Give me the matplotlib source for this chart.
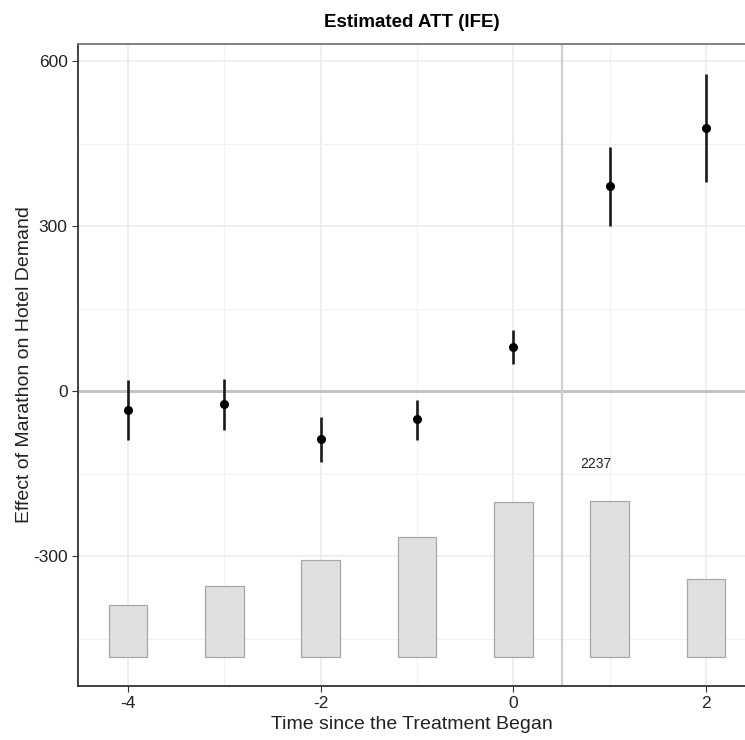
import numpy as np
import matplotlib.pyplot as plt

plt.rcParams['font.family'] = ['Liberation Sans', 'DejaVu Sans']
plt.rcParams['axes.unicode_minus'] = False

# event time and estimated ATT with 95% CI
periods = [-4, -3, -2, -1, 0, 1, 2]
att = [-35, -23, -87, -51, 80, 373, 478]
ci_lower = [-89, -71, -129, -89, 49, 300, 380]
ci_upper = [20, 22, -47, -16, 111, 444, 576]

# number of treated observations per period (bar chart at bottom)
counts = [748, 1016, 1394, 1725, 2221, 2237, 1118]

fig = plt.figure(figsize=(7.45, 7.40), dpi=100)
ax = fig.add_axes([78 / 745, 54 / 740, 1 - 78 / 745, (686 - 44) / 740])

ax.set_xlim(-4.52, 2.405)
ax.set_ylim(-536, 631)

# grid like ggplot theme_bw
ax.set_yticks([-300, 0, 300, 600])
ax.set_yticks([-450, -150, 150, 450], minor=True)
ax.set_xticks([-4, -2, 0, 2])
ax.set_xticks([-3, -1, 1], minor=True)
ax.grid(which='major', color='#ebebeb', lw=1.1, zorder=0)
ax.grid(which='minor', color='#f2f2f2', lw=0.8, zorder=0)
ax.set_axisbelow(True)

# reference lines
ax.axhline(0, color='#c4c4c4', lw=2.2, zorder=1)
ax.axvline(0.5, color='#cfcfcf', lw=1.6, zorder=1)

# count bars scaled into lower band
bar_base = -484
bar_max = 284
heights = np.array(counts) / max(counts) * bar_max
ax.bar(periods, heights, bottom=bar_base, width=0.4, color='#e0e0e0',
       edgecolor='#a8a8a8', lw=0.9, zorder=2)
imax = int(np.argmax(counts))
ax.text(periods[imax] - 0.14, bar_base + bar_max + 67, str(counts[imax]),
        ha='center', va='center', fontsize=10, color='#222222')

# point estimates and CIs
ax.vlines(periods, ci_lower, ci_upper, color='#1a1a1a', lw=1.9, zorder=3)
ax.plot(periods, att, 'o', color='black', ms=5.5, zorder=4)

ax.spines['right'].set_visible(False)
ax.spines['top'].set_color('#777777')
ax.spines['left'].set_color('#333333')
ax.spines['bottom'].set_color('#333333')
for s in ['top', 'left', 'bottom']:
    ax.spines[s].set_linewidth(1.3)

ax.tick_params(which='major', length=4, color='#333333', labelsize=12.5,
               labelcolor='#222222')
ax.tick_params(which='minor', length=0)

ax.set_xlabel('Time since the Treatment Began', fontsize=14, color='#222222',
              labelpad=3)
ax.set_ylabel('Effect of Marathon on Hotel Demand', fontsize=14, color='#222222',
              labelpad=0)
ax.set_title('Estimated ATT (IFE)', fontsize=13.5, fontweight='bold', pad=12)

fig.savefig('out.png', dpi=100)
